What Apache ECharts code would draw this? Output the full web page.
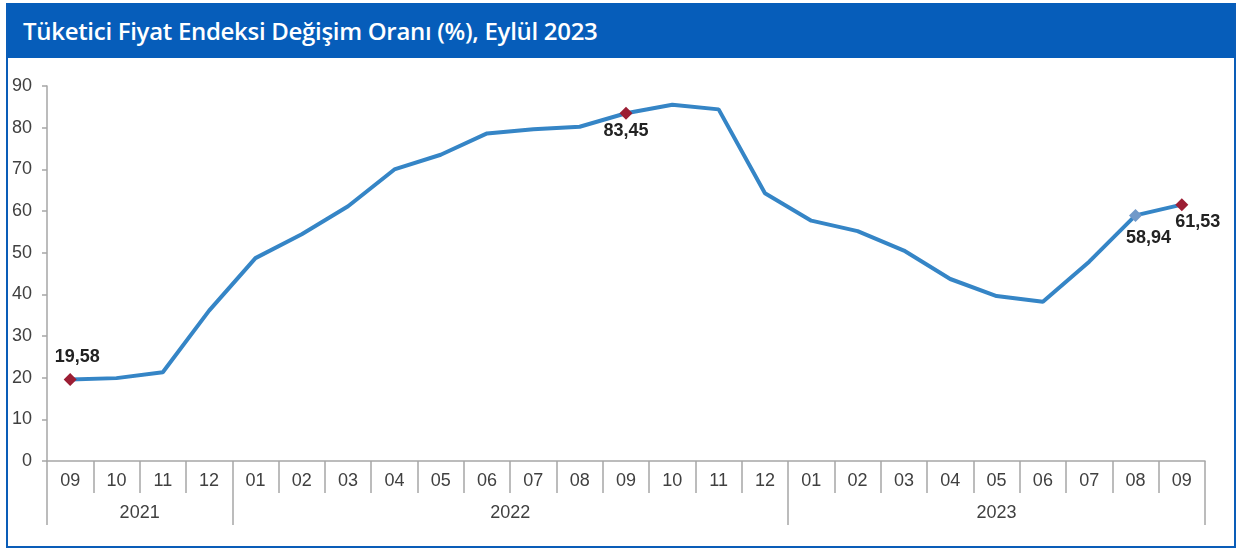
<!DOCTYPE html>
<html>
<head>
<meta charset="utf-8">
<script src="https://cdn.jsdelivr.net/npm/echarts@6/dist/echarts.min.js"></script>
<style>
    body { margin: 0; background: #fff; }
    #frame {
        position: absolute; left: 6px; top: 3px; width: 1226px; height: 543px;
        border: 2px solid #0a5db8; border-top: none;
    }
    #head {
        height: 55px; background: #065dba; color: #fff;
        font-family: 'Open Sans', sans-serif; font-weight: 600; font-size: 24px;
        line-height: 55px; padding-left: 15px; letter-spacing: -0.3px;
    }
    #chart { position: absolute; left: 0; top: 0; width: 1248px; height: 552px; }
</style>
</head>
<body>
<div id="frame"><div id="head">Tüketici Fiyat Endeksi Değişim Oranı (%), Eylül 2023</div></div>
<div id="chart"></div>
<script>
var months = ['09', '10', '11', '12',
    '01', '02', '03', '04', '05', '06', '07', '08', '09', '10', '11', '12',
    '01', '02', '03', '04', '05', '06', '07', '08', '09'];
var years = ['2021', '2022', '2023'];
var monthsPerYear = [4, 12, 9];
var rates = [19.58, 19.89, 21.31, 36.08,
    48.69, 54.44, 61.14, 69.97, 73.50, 78.62, 79.60, 80.21, 83.45, 85.51, 84.39, 64.27,
    57.68, 55.18, 50.51, 43.68, 39.59, 38.21, 47.83, 58.94, 61.53];
var yTicks = [0, 90, 10];

// which points get a marker and a label
var marked = {
    0: { color: '#9c1e34', offset: [7, -22] },
    12: { color: '#9c1e34', offset: [0, 18] },
    23: { color: '#7199c9', offset: [13, 23] },
    24: { color: '#9c1e34', offset: [16, 17] }
};

function fmt(v) { return v.toFixed(2).replace('.', ','); }

var bounds = [0], centers = [];
monthsPerYear.forEach(function(n, i) {
    bounds.push(bounds[i] + n);
    centers.push(bounds[i] + n / 2);
});

var seriesData = rates.map(function(v, i) {
    var m = marked[i];
    if (!m) return { value: v, symbol: 'none' };
    return {
        value: v,
        itemStyle: { color: m.color },
        label: {
            show: true,
            position: 'inside',
            offset: m.offset,
            formatter: function(p) { return fmt(p.value); }
        }
    };
});

var axisGrey = '#a6a6a6';
var font = 'Arial, "Liberation Sans", sans-serif';
var textStyle = { color: '#404040', fontFamily: font, fontSize: 18 };

var chart = echarts.init(document.getElementById('chart'));
chart.setOption({
    animation: false,
    grid: { left: 47, right: 43, top: 86, bottom: 91 },
    xAxis: [
        {
            type: 'category',
            data: months,
            boundaryGap: true,
            axisLine: { lineStyle: { color: axisGrey, width: 1.5 } },
            axisTick: { show: true, interval: 0, length: 32, lineStyle: { color: axisGrey, width: 1.5 } },
            axisLabel: Object.assign({ interval: 0, margin: 11 }, textStyle)
        },
        {
            type: 'value',
            position: 'bottom',
            offset: 32,
            min: 0,
            max: months.length,
            splitLine: { show: false },
            axisLine: { show: false },
            axisTick: { show: true, customValues: bounds, length: 32, lineStyle: { color: axisGrey, width: 1.5 } },
            axisLabel: Object.assign({
                customValues: centers,
                margin: 11,
                formatter: function(v) { return years[centers.indexOf(v)]; }
            }, textStyle)
        }
    ],
    yAxis: {
        type: 'value',
        min: yTicks[0],
        max: yTicks[1],
        interval: yTicks[2],
        splitLine: { show: false },
        axisLine: { show: true, lineStyle: { color: axisGrey, width: 1.5 } },
        axisTick: { show: true, length: 5, lineStyle: { color: axisGrey, width: 1.5 } },
        axisLabel: Object.assign({ margin: 15 }, textStyle)
    },
    series: [
        {
            type: 'line',
            data: seriesData,
            symbol: 'diamond',
            symbolSize: 13,
            showSymbol: true,
            lineStyle: { color: '#3585c6', width: 4 },
            itemStyle: { color: '#3585c6' },
            label: { color: '#222', fontWeight: 'bold', fontSize: 18, fontFamily: font },
            emphasis: { disabled: true }
        }
    ]
});
</script>
</body>
</html>
